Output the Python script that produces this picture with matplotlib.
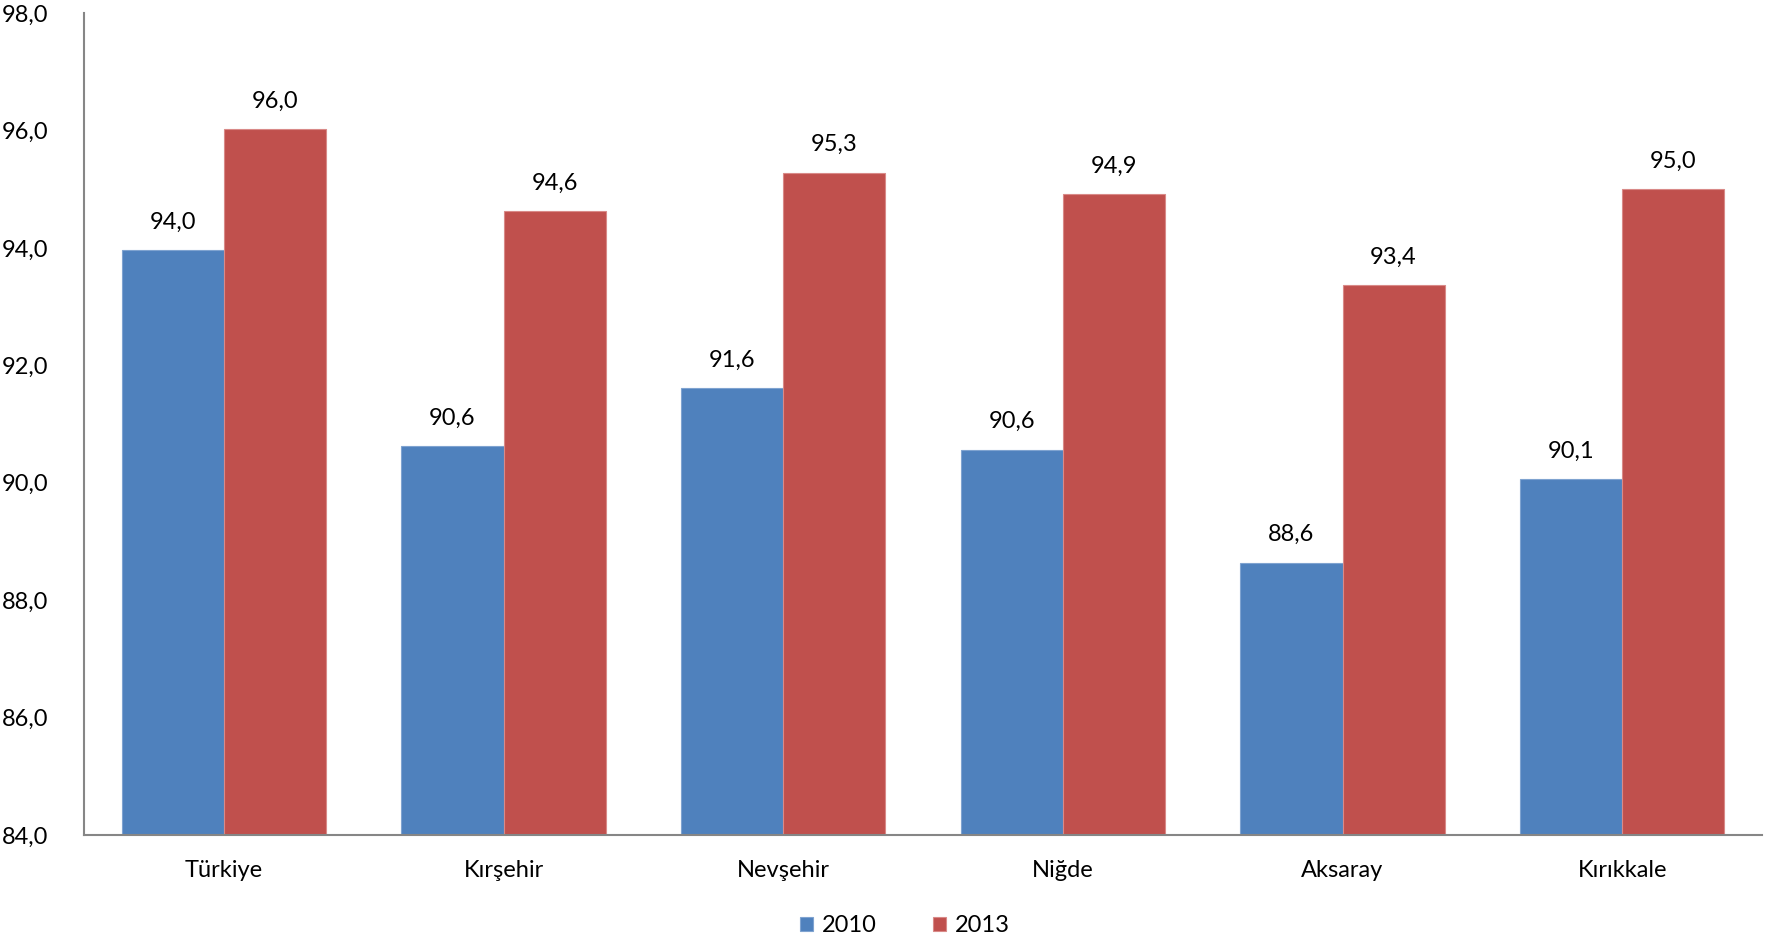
import matplotlib
matplotlib.use("Agg")
import matplotlib.pyplot as plt
import numpy as np

categories = ["Türkiye", "Kırşehir", "Nevşehir", "Niğde", "Aksaray", "Kırıkkale"]
series_names = ["2010", "2013"]
values_2010 = [93.96, 90.62, 91.61, 90.56, 88.64, 90.06]
values_2013 = [96.02, 94.62, 95.28, 94.91, 93.36, 95.00]
yticks = [84, 86, 88, 90, 92, 94, 96, 98]

colors = ["#4F81BD", "#C0504D"]
edgecolors = ["#7FA3D0", "#D98A88"]

plt.rcParams['font.family'] = ['Lato', 'DejaVu Sans']
fs = 17

fig = plt.figure(figsize=(17.69, 9.41), dpi=100)
ax = fig.add_axes([84/1769, 1-835/941, (1762-84)/1769, (835-13)/941])

x = np.arange(len(categories))
w = 0.365
for i, (vals, name) in enumerate(zip([values_2010, values_2013], series_names)):
    pos = x + (i - 0.5) * w
    ax.bar(pos, [v - 84 for v in vals], width=w, bottom=84, color=colors[i],
           edgecolor=edgecolors[i], linewidth=0.8, label=name)
    for p, v in zip(pos, vals):
        ax.text(p, v + 0.3, f"{v:.1f}".replace(".", ","), ha="center", va="bottom",
                fontsize=fs, color="black")

ax.set_xlim(-0.5, len(categories) - 0.5)
ax.set_ylim(84, 98)
ax.set_yticks(yticks)
ax.set_yticklabels([f"{t:.1f}".replace(".", ",") for t in yticks], fontsize=fs)
ax.set_xticks(x)
ax.set_xticklabels(categories, fontsize=fs)
ax.tick_params(axis="both", length=0)
ax.tick_params(axis="y", pad=26)
ax.tick_params(axis="x", pad=18)
for s in ["top", "right"]:
    ax.spines[s].set_visible(False)
for s in ["left", "bottom"]:
    ax.spines[s].set_color("#868686")
    ax.spines[s].set_linewidth(1.5)

fig.legend(loc="center", bbox_to_anchor=(905/1769, 1-926/941), ncol=2, frameon=False,
           fontsize=fs, handlelength=0.55, handleheight=0.55, columnspacing=2.4, handletextpad=0.35)

fig.savefig("out.png", dpi=100)
